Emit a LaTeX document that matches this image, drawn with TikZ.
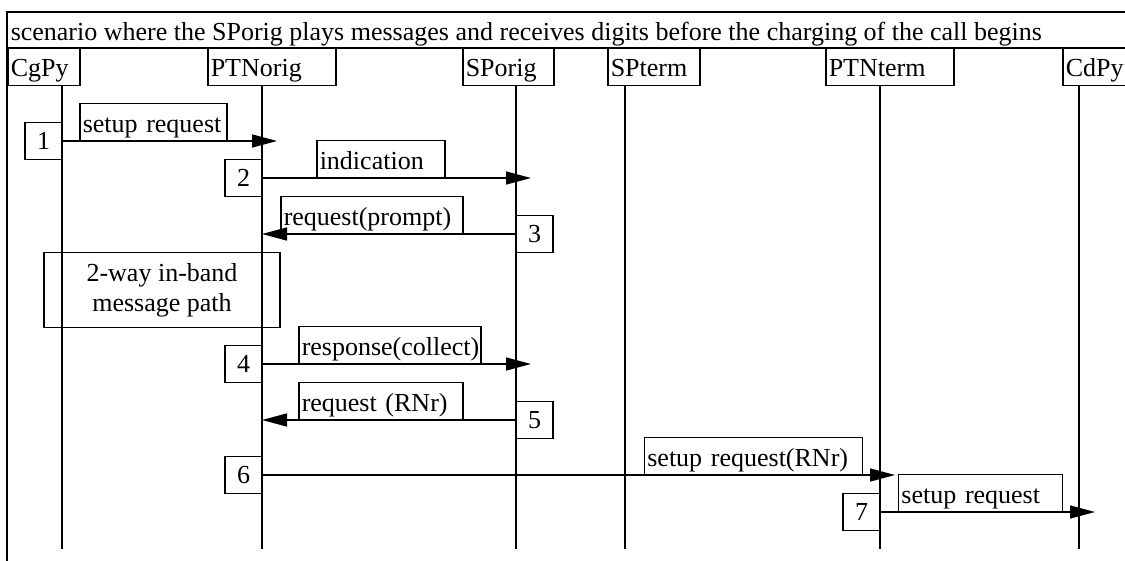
\documentclass[tikz,border=0pt]{standalone}
\usepackage{fontspec}
\setmainfont{Liberation Serif}
\usetikzlibrary{arrows.meta}
\begin{document}
\begin{tikzpicture}[x=1pt,y=-1pt, line width=1.5pt,
  every node/.style={font=\fontsize{26}{30}\selectfont},
  hdr/.style={draw, anchor=south west, minimum height=38pt, text height=20pt, text depth=0pt, inner ysep=0pt, inner xsep=3pt, align=left},
  lbl/.style={draw, anchor=south west, minimum height=37pt, text height=21pt, text depth=0pt, inner ysep=0pt, inner xsep=3pt, align=left},
  num/.style={draw, minimum width=37pt, minimum height=37pt, inner sep=0pt},
  msg/.style={-{Triangle[length=25pt,width=13pt]}}]
\clip (0,0) rectangle (1125,560);
% frame
\draw (1140,12) -- (7,12) -- (7,570);
\draw (7,48) -- (1140,48);
\node[anchor=base west, inner sep=0pt] (title) at (10,40) {scenario where the SPorig plays messages and receives digits before the charging of the call begins};
% headers
\node[hdr, text width=66pt] (hCgPy) at (7,86) {CgPy};
\node[hdr, text width=122pt] (hPTNorig) at (207,86) {PTNorig};
\node[hdr, text width=85pt] (hSPorig) at (462,86) {SPorig};
\node[hdr, text width=86pt] (hSPterm) at (607,86) {SPterm};
\node[hdr, text width=122pt] (hPTNterm) at (825,86) {PTNterm};
\node[hdr, text width=72pt] (hCdPy) at (1062,86) {CdPy};
% lifelines
\foreach \n/\x in {CgPy/62, PTNorig/262, SPorig/516, SPterm/625, PTNterm/880, CdPy/1079} {
  \coordinate (\n-top) at (\x,86);
  \coordinate (\n-bot) at (\x,549);
  \draw (\n-top) -- (\n-bot);
}
% number boxes
\node[num] (n1) at (43.5,141) {1};
\node[num] (n2) at (243.5,178) {2};
\node[num] (n3) at (534.5,234) {3};
\node[num] (n4) at (243.5,364) {4};
\node[num] (n5) at (534.5,420) {5};
\node[num] (n6) at (243.5,475) {6};
\node[num] (n7) at (861.5,512) {7};
% arrow targets
\coordinate (t1) at (277,141);
\coordinate (t2) at (531,178);
\coordinate (t3) at (262,234);
\coordinate (t4) at (531,364);
\coordinate (t5) at (262,420);
\coordinate (t6) at (895,475);
\coordinate (t7) at (1095,512);
% messages
\draw[msg] (n1.east) -- (t1);
\draw[msg] (n2.east) -- (t2);
\draw[msg] (n3.west) -- (t3);
\draw[msg] (n4.east) -- (t4);
\draw[msg] (n5.west) -- (t5);
\draw[msg] (n6.east) -- (t6);
\draw[msg] (n7.east) -- (t7);
% labels
\node[lbl, text width=141pt] (l1) at (79,141) {setup request};
\node[lbl, text width=122pt] (l2) at (316,178) {indication};
\node[lbl, text width=176pt] (l3) at (280,234) {request(prompt)};
\node[lbl, text width=176pt] (l4) at (298,364) {response(collect)};
\node[lbl, text width=158pt] (l5) at (298,420) {request (RNr)};
\node[lbl, text width=212pt] (l6) at (643.6,475) {setup request(RNr)};
\node[lbl, text width=158pt] (l7) at (897.7,512) {setup request};
% in-band path
\node[draw, minimum width=236pt, minimum height=75pt, align=center, inner sep=0pt] (path) at (162,290) {2-way in-band\\message path};
\end{tikzpicture}
\end{document}
